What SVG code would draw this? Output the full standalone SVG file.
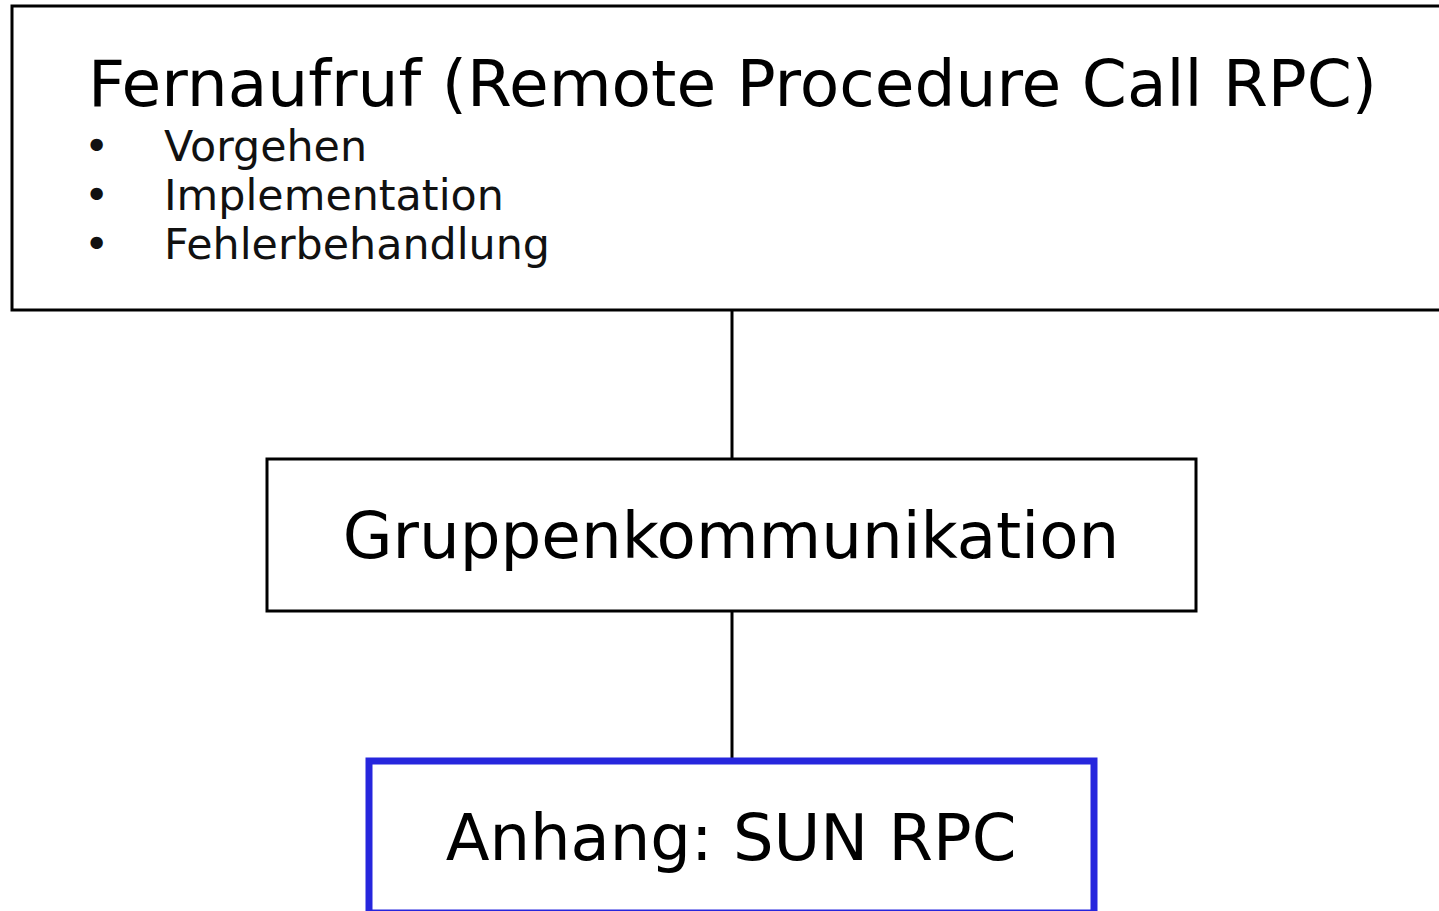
<svg xmlns="http://www.w3.org/2000/svg" width="1439" height="911" viewBox="0 0 1439 911">
<style>
.box{fill:#fff;stroke:#000;stroke-width:3}
.blue{fill:#fff;stroke:#2626DD;stroke-width:7}
.t{font-family:"DejaVu Sans",sans-serif;fill:#000}
.big{font-size:64px}
.title{font-size:64.6px}
.small{font-size:42.8px;fill:#111}
.conn{stroke:#000;stroke-width:3;fill:none}
</style>
<rect width="1439" height="911" fill="#fff"/>
<g id="connectors">
<line class="conn" x1="732" y1="310" x2="732" y2="459"/>
<line class="conn" x1="732" y1="611" x2="732" y2="761"/>
</g>
<g id="node-rpc">
<rect class="box" x="12" y="6" width="1450" height="304"/>
<text class="t title" x="88" y="106">Fernaufruf (Remote Procedure Call RPC)</text>
<text class="t small" x="84" y="161">•</text>
<text class="t small" x="164" y="161">Vorgehen</text>
<text class="t small" x="84" y="210">•</text>
<text class="t small" x="164" y="210">Implementation</text>
<text class="t small" x="84" y="259">•</text>
<text class="t small" x="164" y="259">Fehlerbehandlung</text>
</g>
<g id="node-gruppe">
<rect class="box" x="267" y="459" width="929" height="152"/>
<text class="t big" x="731" y="558" text-anchor="middle" fill="#1a1a1a" style="font-size:64.3px">Gruppenkommunikation</text>
</g>
<g id="node-sun">
<rect class="blue" x="369" y="761" width="725" height="152"/>
<text class="t big" x="731" y="860" text-anchor="middle">Anhang: SUN RPC</text>
</g>
</svg>
